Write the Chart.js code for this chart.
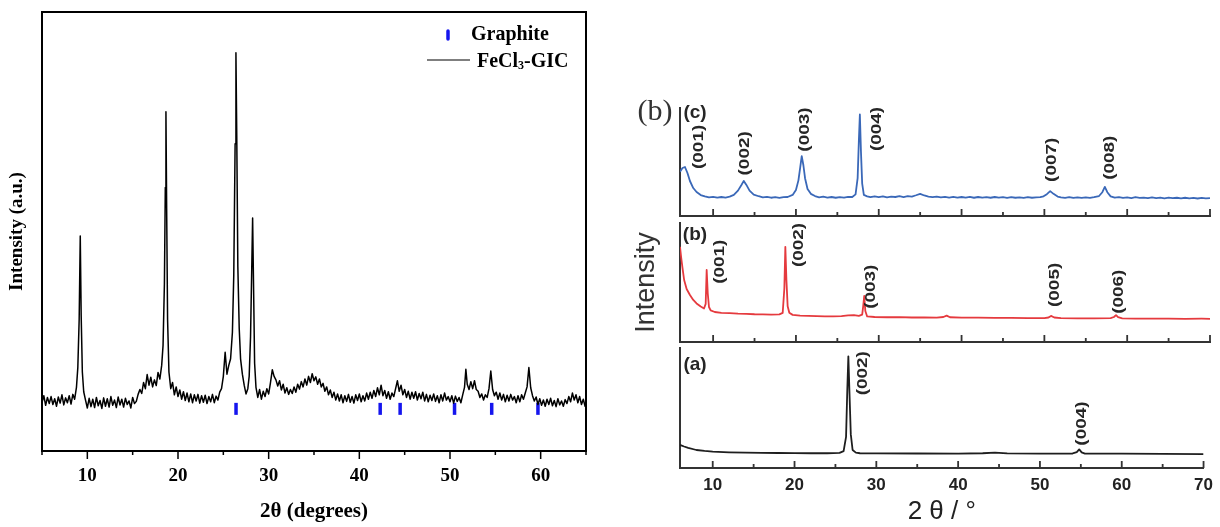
<!DOCTYPE html>
<html>
<head>
<meta charset="utf-8">
<title>XRD patterns</title>
<script src="https://cdn.jsdelivr.net/npm/chart.js@4.4.0/dist/chart.umd.min.js"></script>
<style>
  html, body { margin: 0; padding: 0; background: #fff; }
  #wrap { position: relative; width: 1220px; height: 527px; overflow: hidden; }
  canvas { position: absolute; top: 0; }
</style>
</head>
<body>
<div id="wrap">
  <canvas id="gic" width="600" height="527" style="left:0"></canvas>
  <canvas id="panelC" width="620" height="527" style="left:600px"></canvas>
  <canvas id="panelB" width="620" height="527" style="left:600px"></canvas>
  <canvas id="panelA" width="620" height="527" style="left:600px"></canvas>
</div>
<script>
// ---- left figure: FeCl3-GIC pattern, [2theta, intensity]
const gicPattern = [
  [5.0,11.0],[5.2,12.6],[5.4,10.4],[5.6,12.2],[5.8,10.8],[6.0,12.4],[6.2,10.6],[6.4,11.9],[6.6,10.2],[6.8,12.3],
  [7.0,10.9],[7.2,12.8],[7.4,10.5],[7.6,12.1],[7.8,11.0],[8.0,12.6],[8.2,10.7],[8.4,12.9],[8.6,11.8],[8.8,14.5],
  [8.95,19.0],[9.1,30.0],[9.22,49.0],[9.32,31.0],[9.45,18.0],[9.6,13.5],[9.8,11.6],[10.0,9.8],[10.2,12.0],[10.4,10.1],
  [10.6,11.8],[10.8,9.9],[11.0,12.2],[11.2,10.3],[11.4,11.5],[11.6,9.7],[11.8,12.1],[12.0,10.2],[12.2,11.9],[12.4,10.0],
  [12.6,12.4],[12.8,10.4],[13.0,11.6],[13.2,9.9],[13.4,12.3],[13.6,10.5],[13.8,11.8],[14.0,10.0],[14.2,12.0],[14.4,10.6],
  [14.6,11.4],[14.8,9.8],[15.0,12.2],[15.2,10.8],[15.4,11.3],[15.6,12.9],[15.8,14.0],[16.0,13.1],[16.2,15.6],[16.4,14.2],
  [16.6,17.4],[16.8,15.0],[17.0,16.8],[17.2,14.6],[17.4,16.2],[17.6,14.9],[17.8,17.9],[18.0,16.4],[18.2,19.5],[18.35,24.0],
  [18.5,38.0],[18.6,60.0],[18.67,77.3],[18.75,55.0],[18.85,30.0],[19.0,18.0],[19.2,14.2],[19.4,15.6],[19.6,12.8],[19.8,14.6],
  [20.0,12.4],[20.2,13.9],[20.4,11.8],[20.6,13.5],[20.8,11.5],[21.0,13.2],[21.2,11.2],[21.4,13.0],[21.6,11.0],[21.8,12.8],
  [22.0,11.4],[22.2,12.9],[22.4,10.9],[22.6,12.6],[22.8,11.1],[23.0,12.7],[23.2,10.8],[23.4,12.4],[23.6,11.2],[23.8,12.9],
  [24.0,11.0],[24.2,12.5],[24.4,11.6],[24.6,13.4],[24.8,14.2],[25.0,17.0],[25.2,22.5],[25.4,17.5],[25.6,19.5],[25.8,21.0],
  [26.0,27.0],[26.15,40.0],[26.3,70.0],[26.39,90.7],[26.48,72.0],[26.6,42.0],[26.75,28.0],[26.9,21.0],[27.1,17.5],[27.3,15.0],
  [27.5,13.0],[27.7,14.2],[27.85,17.0],[28.0,26.0],[28.12,40.0],[28.23,53.1],[28.33,38.0],[28.45,20.0],[28.6,14.5],[28.8,12.2],
  [29.0,14.0],[29.2,11.8],[29.4,13.6],[29.6,12.4],[29.8,14.2],[30.0,13.0],[30.2,15.6],[30.4,18.5],[30.6,17.0],[30.8,16.2],
  [31.0,14.8],[31.2,16.0],[31.4,13.9],[31.6,15.2],[31.8,13.2],[32.0,14.4],[32.2,12.9],[32.4,14.0],[32.6,13.1],[32.8,14.6],
  [33.0,13.4],[33.2,15.2],[33.4,14.1],[33.6,15.8],[33.8,14.6],[34.0,16.4],[34.2,15.0],[34.4,17.0],[34.6,15.6],[34.8,17.6],
  [35.0,16.0],[35.2,16.9],[35.4,15.2],[35.6,16.4],[35.8,14.6],[36.0,15.4],[36.2,13.6],[36.4,14.6],[36.6,12.8],[36.8,13.9],
  [37.0,12.2],[37.2,13.4],[37.4,11.6],[37.6,13.0],[37.8,11.4],[38.0,12.8],[38.2,11.0],[38.4,12.6],[38.6,11.3],[38.8,12.9],
  [39.0,11.1],[39.2,12.4],[39.4,10.9],[39.6,12.8],[39.8,11.5],[40.0,13.0],[40.2,11.2],[40.4,12.6],[40.6,11.4],[40.8,13.2],
  [41.0,11.8],[41.2,13.4],[41.4,12.0],[41.6,13.8],[41.8,12.4],[42.0,14.4],[42.2,12.8],[42.4,15.0],[42.6,12.6],[42.8,13.8],
  [43.0,12.0],[43.2,13.5],[43.4,11.8],[43.6,13.2],[43.8,12.4],[44.0,14.2],[44.2,16.0],[44.4,13.6],[44.6,15.0],[44.8,12.8],
  [45.0,14.0],[45.2,12.2],[45.4,13.6],[45.6,11.8],[45.8,13.4],[46.0,12.0],[46.2,13.5],[46.4,11.6],[46.6,13.1],[46.8,11.9],
  [47.0,13.4],[47.2,11.4],[47.4,12.9],[47.6,11.2],[47.8,12.7],[48.0,11.5],[48.2,13.0],[48.4,11.3],[48.6,12.6],[48.8,11.0],
  [49.0,12.8],[49.2,11.4],[49.4,13.2],[49.6,11.6],[49.8,12.4],[50.0,11.2],[50.2,12.6],[50.4,10.9],[50.6,12.5],[50.8,11.3],
  [51.0,12.2],[51.2,11.0],[51.4,12.8],[51.6,14.5],[51.75,18.6],[51.9,15.2],[52.1,14.0],[52.3,15.8],[52.5,14.2],[52.7,16.0],
  [52.9,14.0],[53.1,13.6],[53.3,12.2],[53.5,13.0],[53.7,11.6],[53.9,12.8],[54.1,12.2],[54.3,14.2],[54.5,18.2],[54.7,14.0],
  [54.9,12.6],[55.1,13.4],[55.3,11.8],[55.5,13.2],[55.7,11.6],[55.9,12.9],[56.1,11.2],[56.3,12.7],[56.5,11.4],[56.7,12.9],
  [56.9,11.6],[57.1,12.4],[57.3,11.0],[57.5,12.6],[57.7,11.2],[57.9,12.8],[58.1,11.8],[58.3,13.2],[58.5,14.6],[58.7,19.0],
  [58.9,14.4],[59.1,12.6],[59.3,11.4],[59.5,12.3],[59.7,10.6],[59.9,11.9],[60.1,10.4],[60.3,11.6],[60.5,10.2],[60.7,11.8],
  [60.9,10.6],[61.1,12.0],[61.3,10.3],[61.5,11.5],[61.7,10.1],[61.9,11.9],[62.1,10.5],[62.3,11.4],[62.5,10.2],[62.7,11.7],
  [62.9,10.8],[63.1,12.4],[63.3,11.2],[63.5,13.2],[63.7,11.6],[63.9,12.8],[64.1,11.0],[64.3,12.4],[64.5,10.6],[64.7,11.8],
  [64.9,10.2],[65.0,11.0]
];
const graphiteRefs = [26.4, 42.3, 44.5, 50.5, 54.6, 59.7];
const graphiteLevel = 9.6;
const gicTicks = [10, 20, 30, 40, 50, 60];
const gicMinorTicks = [5, 15, 25, 35, 45, 55, 65];

// ---- right figure: three stacked patterns
const patternC = [
  [6.0,41],[6.3,44.4],[6.6,45.4],[6.9,39.8],[7.2,32.4],[7.6,25.9],[8.0,22.2],[8.5,19.4],[9.0,18.1],[9.5,17.2],
  [10.0,17.8],[10.5,17.0],[11.0,17.6],[11.5,17.1],[12.0,17.9],[12.5,19.5],[13.0,23.5],[13.4,28.5],[13.7,32.5],[14.0,29.0],
  [14.4,23.5],[14.9,19.8],[15.5,18.3],[16.0,17.3],[16.5,17.8],[17.0,16.9],[17.5,17.4],[18.0,16.8],[18.5,17.5],[19.0,17.6],
  [19.6,19.5],[20.0,24.0],[20.3,33.0],[20.5,44.0],[20.7,55.5],[20.9,47.0],[21.1,35.0],[21.4,25.0],[21.8,20.5],[22.3,18.5],
  [22.8,17.3],[23.3,17.9],[23.8,17.0],[24.3,17.6],[24.8,16.9],[25.3,17.5],[25.8,17.1],[26.3,17.8],[26.8,17.6],[27.2,20.0],
  [27.45,35.0],[27.6,70.0],[27.72,94.0],[27.85,60.0],[28.0,30.0],[28.2,19.5],[28.6,18.2],[29.0,17.4],[29.5,18.1],[30.0,17.5],
  [30.5,18.2],[31.0,17.3],[31.5,18.0],[32.0,17.6],[32.5,18.3],[33.0,17.5],[33.5,18.4],[34.0,18.0],[34.5,19.2],[35.0,20.5],
  [35.5,19.0],[36.0,18.0],[36.5,17.4],[37.0,18.0],[37.5,17.2],[38.0,17.8],[38.5,17.1],[39.0,17.7],[39.5,17.0],[40.0,17.6],
  [40.5,17.1],[41.0,17.7],[41.5,16.9],[42.0,17.6],[42.5,17.0],[43.0,17.5],[43.5,16.9],[44.0,17.6],[44.5,17.0],[45.0,17.4],
  [45.5,16.8],[46.0,17.5],[46.5,16.9],[47.0,17.3],[47.5,16.8],[48.0,17.4],[48.5,16.9],[49.0,17.2],[49.5,17.4],[49.9,18.2],
  [50.3,20.2],[50.7,23.0],[51.1,20.5],[51.6,18.0],[52.0,17.3],[52.5,16.8],[53.0,17.4],[53.5,16.7],[54.0,17.3],[54.5,16.8],
  [55.0,17.2],[55.5,16.7],[56.0,17.4],[56.6,18.5],[57.0,22.0],[57.3,27.0],[57.6,22.0],[58.0,18.2],[58.5,17.0],[59.0,17.4],
  [59.5,16.8],[60.0,17.2],[60.5,16.6],[61.0,17.4],[61.5,16.8],[62.0,17.1],[62.5,16.5],[63.0,17.2],[63.5,16.6],[64.0,17.0],
  [64.5,16.4],[65.0,17.0],[65.5,16.5],[66.0,16.9],[66.5,16.3],[67.0,16.9],[67.5,16.4],[68.0,16.8],[68.5,16.2],[69.0,16.7],
  [69.5,16.3],[70.0,16.5]
];
const patternB = [
  [6.0,80],[6.15,70.6],[6.3,62.2],[6.5,52.1],[6.8,44.5],[7.2,39.5],[7.6,35.3],[8.0,32.4],[8.5,29.8],[8.9,28.2],
  [9.1,32],[9.22,60.5],[9.35,41],[9.5,29.4],[9.7,26.5],[10.2,25.2],[11.0,24.5],[12.0,24.2],[13.0,23.8],[14.0,23.6],
  [15.0,23.3],[16.0,23.2],[17.0,23.0],[18.0,23.2],[18.4,24.5],[18.6,45],[18.72,80],[18.85,52],[19.0,30],[19.2,24.5],
  [19.6,22.8],[20.5,22.2],[21.5,22.0],[22.5,21.8],[23.5,21.6],[24.5,21.5],[25.5,21.8],[26.3,22.4],[27.0,22.6],[27.6,22.0],
  [28.0,23.0],[28.12,30.0],[28.25,38.7],[28.38,26.0],[28.6,21.5],[29.5,21.0],[31.0,20.8],[32.5,20.9],[34.0,20.6],[35.5,20.7],
  [37.0,20.5],[37.8,21.0],[38.2,22.2],[38.6,20.8],[40.0,20.4],[42.0,20.5],[44.0,20.2],[46.0,20.3],[48.0,20.0],[50.0,20.1],
  [50.5,20.6],[50.8,21.9],[51.2,20.6],[52.0,20.0],[54.0,19.9],[56.0,19.8],[58.0,20.0],[58.4,21.0],[58.65,22.6],[58.9,20.9],
  [59.4,19.8],[61.0,19.7],[63.0,19.6],[65.0,19.7],[67.0,19.5],[69.0,19.6],[70.0,19.5]
];
const patternA = [
  [6.0,19.2],[6.5,17.9],[7.0,16.7],[8.0,15.0],[9.0,14.2],[10.0,13.6],[12.0,13.1],[14.0,12.8],[16.0,12.6],[18.0,12.5],
  [20.0,12.4],[22.0,12.3],[24.0,12.3],[25.5,12.6],[26.0,14.0],[26.3,26.0],[26.45,65.0],[26.58,93.0],[26.72,62.0],[26.88,28.0],
  [27.1,15.0],[27.5,12.8],[28.0,12.3],[30.0,12.2],[35.0,12.1],[40.0,12.0],[43.0,12.3],[44.5,12.8],[46.0,12.2],[50.0,12.0],
  [54.0,12.1],[54.5,13.2],[54.8,15.5],[55.1,13.0],[55.5,12.0],[60.0,11.9],[65.0,11.8],[70.0,11.6]
];
const hklC = ['(001)', '(002)', '(003)', '(004)', '(007)', '(008)'];
const hklCAngle = [8.35, 13.9, 21.1, 29.8, 50.9, 57.9];
const hklCLevel = [64, 58, 80, 80.5, 52, 54];
const hklB = ['(001)', '(002)', '(003)', '(005)', '(006)'];
const hklBAngle = [10.8, 20.4, 29.1, 51.3, 59.0];
const hklBLevel = [67.5, 81.5, 46.5, 48, 42.3];
const hklA = ['(002)', '(004)'];
const hklAAngle = [28.4, 55.1];
const hklALevel = [79, 37];
const stackTicks = [10, 20, 30, 40, 50, 60, 70];
const stackMinorTicks = [15, 25, 35, 45, 55, 65];

const serif = '"Liberation Serif", "Times New Roman", serif';
const sans = '"Liberation Sans", Arial, sans-serif';

// frame around the left plot
const frameBox = {
  id: 'frameBox',
  afterDraw(chart, args, opts) {
    if (!opts.show) return;
    const { ctx, chartArea: a } = chart;
    ctx.save();
    ctx.strokeStyle = opts.color;
    ctx.lineWidth = opts.width;
    ctx.strokeRect(a.left, a.top, a.right - a.left, a.bottom - a.top);
    ctx.restore();
  }
};

// major/minor tick marks on the x axis
const tickMarks = {
  id: 'tickMarks',
  afterDraw(chart, args, opts) {
    if (!opts.major) return;
    const { ctx, chartArea: a, scales: { x } } = chart;
    const dir = opts.inward ? -1 : 1;
    ctx.save();
    ctx.strokeStyle = opts.color;
    ctx.lineWidth = opts.width;
    ctx.beginPath();
    opts.major.forEach(v => {
      const px = x.getPixelForValue(v);
      ctx.moveTo(px, a.bottom);
      ctx.lineTo(px, a.bottom + dir * opts.majorLength);
    });
    opts.minor.forEach(v => {
      const px = x.getPixelForValue(v);
      ctx.moveTo(px, a.bottom);
      ctx.lineTo(px, a.bottom + dir * opts.minorLength);
    });
    ctx.stroke();
    ctx.restore();
  }
};

// rotated (hkl) labels
const hklLabels = {
  id: 'hklLabels',
  afterDatasetsDraw(chart, args, opts) {
    if (!opts.text) return;
    const { ctx, scales: { x, y } } = chart;
    ctx.save();
    ctx.fillStyle = '#262626';
    ctx.font = 'bold 14px ' + sans;
    ctx.textAlign = 'center';
    ctx.textBaseline = 'middle';
    opts.text.forEach((t, i) => {
      ctx.save();
      ctx.translate(x.getPixelForValue(opts.angle[i]), y.getPixelForValue(opts.level[i]));
      ctx.rotate(-Math.PI / 2);
      ctx.scale(1.35, 1);
      ctx.fillText(t, 0, 0);
      ctx.restore();
    });
    ctx.restore();
  }
};

// (a) (b) (c) tags and the figure letter
const panelTag = {
  id: 'panelTag',
  afterDraw(chart, args, opts) {
    if (!opts.text) return;
    const { ctx, chartArea: a } = chart;
    ctx.save();
    ctx.fillStyle = '#262626';
    ctx.textBaseline = 'middle';
    ctx.textAlign = 'center';
    ctx.font = 'bold 19px ' + sans;
    ctx.fillText(opts.text, a.left + 15, a.top + opts.dy);
    if (opts.figure) {
      ctx.font = '30px ' + serif;
      ctx.fillStyle = '#333';
      ctx.fillText(opts.figure, a.left - 25, a.top + 4);
    }
    ctx.restore();
  }
};

// legend of the left plot
const gicLegend = {
  id: 'gicLegend',
  afterDraw(chart, args, opts) {
    if (!opts.show) return;
    const { ctx, chartArea: a } = chart;
    ctx.save();
    ctx.strokeStyle = '#1515ee';
    ctx.lineWidth = 3.5;
    ctx.lineCap = 'round';
    ctx.beginPath();
    ctx.moveTo(a.right - 138, a.top + 19);
    ctx.lineTo(a.right - 138, a.top + 27);
    ctx.stroke();
    ctx.strokeStyle = '#000';
    ctx.lineWidth = 1.2;
    ctx.lineCap = 'butt';
    ctx.beginPath();
    ctx.moveTo(a.right - 159, a.top + 48);
    ctx.lineTo(a.right - 116, a.top + 48);
    ctx.stroke();
    ctx.fillStyle = '#000';
    ctx.textAlign = 'left';
    ctx.textBaseline = 'middle';
    ctx.font = 'bold 20px ' + serif;
    ctx.fillText('Graphite', a.right - 115, a.top + 23);
    let tx = a.right - 109;
    ctx.fillText('FeCl', tx, a.top + 50);
    tx += ctx.measureText('FeCl').width;
    ctx.font = 'bold 12px ' + serif;
    ctx.fillText('3', tx, a.top + 54);
    tx += ctx.measureText('3').width;
    ctx.font = 'bold 20px ' + serif;
    ctx.fillText('-GIC', tx, a.top + 50);
    ctx.restore();
  }
};

const allPlugins = [frameBox, tickMarks, hklLabels, panelTag, gicLegend];

new Chart(document.getElementById('gic'), {
  type: 'scatter',
  data: {
    datasets: [
      {
        label: 'FeCl3-GIC',
        data: gicPattern.map(p => ({ x: p[0], y: p[1] })),
        showLine: true,
        borderColor: '#000',
        borderWidth: 1.5,
        pointRadius: 0,
        borderJoinStyle: 'round'
      },
      {
        label: 'Graphite',
        data: graphiteRefs.map(a => ({ x: a, y: graphiteLevel })),
        showLine: false,
        pointStyle: 'line',
        rotation: 90,
        pointRadius: 6,
        borderColor: '#1515ee',
        borderWidth: 3.5
      }
    ]
  },
  options: {
    responsive: false,
    animation: false,
    devicePixelRatio: 1,
    events: [],
    layout: { padding: { top: 12, right: 14, left: 0, bottom: 0 } },
    scales: {
      x: {
        type: 'linear',
        min: 5,
        max: 65,
        afterBuildTicks: s => { s.ticks = gicTicks.map(v => ({ value: v })); },
        afterFit: s => { s.height = 76; },
        grid: { display: false, drawTicks: false },
        border: { display: false },
        ticks: { padding: 14, color: '#000', font: { family: serif, weight: 'bold', size: 19 } },
        title: { display: true, text: '2θ (degrees)', color: '#000', padding: { top: 0, bottom: 3 },
                 font: { family: serif, weight: 'bold', size: 21 } }
      },
      y: {
        min: 0,
        max: 100,
        afterFit: s => { s.width = 42; },
        grid: { display: false, drawTicks: false },
        border: { display: false },
        ticks: { display: false },
        title: { display: true, text: 'Intensity (a.u.)', color: '#000', padding: { top: 6, bottom: 0 },
                 font: { family: serif, weight: 'bold', size: 19 } }
      }
    },
    plugins: {
      legend: { display: false },
      tooltip: { enabled: false },
      frameBox: { show: true, color: '#000', width: 2 },
      tickMarks: { major: gicTicks, minor: gicMinorTicks, inward: false, majorLength: 8, minorLength: 4, color: '#000', width: 1.5 },
      gicLegend: { show: true }
    }
  },
  plugins: allPlugins
});

function stackPanel(id, pattern, color, top, bottom, hkl, tag, extras) {
  const showAxis = extras.bottomAxis;
  return new Chart(document.getElementById(id), {
    type: 'scatter',
    data: {
      datasets: [{
        data: pattern.map(p => ({ x: p[0], y: p[1] })),
        showLine: true,
        borderColor: color,
        borderWidth: 1.8,
        pointRadius: 0,
        borderJoinStyle: 'round'
      }]
    },
    options: {
      responsive: false,
      animation: false,
      devicePixelRatio: 1,
      events: [],
      layout: { padding: { top: top, right: 10, left: 0, bottom: 0 } },
      scales: {
        x: {
          type: 'linear',
          min: 6,
          max: 70,
          afterBuildTicks: s => { s.ticks = stackTicks.map(v => ({ value: v })); },
          afterFit: s => { s.height = 527 - bottom; },
          grid: { display: false, drawTicks: false },
          border: { display: true, color: '#333', width: 2 },
          ticks: { display: showAxis, padding: 7, color: '#222', font: { family: sans, weight: 'bold', size: 17 } },
          title: { display: showAxis, text: '2 θ / °', color: '#222', padding: { top: 0, bottom: 0 },
                   font: { family: sans, size: 26 } }
        },
        y: {
          min: 0,
          max: 100,
          afterFit: s => { s.width = 80; },
          grid: { display: false, drawTicks: false },
          border: { display: true, color: '#333', width: 2 },
          ticks: { display: false },
          title: { display: !!extras.yTitle, text: extras.yTitle || '', color: '#333', padding: { top: 30, bottom: 0 },
                   font: { family: sans, size: 27 } }
        }
      },
      plugins: {
        legend: { display: false },
        tooltip: { enabled: false },
        tickMarks: { major: stackTicks, minor: stackMinorTicks, inward: true, majorLength: 7, minorLength: 4, color: '#333', width: 1.8 },
        hklLabels: hkl,
        panelTag: tag
      }
    },
    plugins: allPlugins
  });
}

stackPanel('panelC', patternC, '#3a68b8', 108, 216,
  { text: hklC, angle: hklCAngle, level: hklCLevel },
  { text: '(c)', dy: 5, figure: '(b)' },
  { bottomAxis: false });
stackPanel('panelB', patternB, '#e53a3e', 223, 342,
  { text: hklB, angle: hklBAngle, level: hklBLevel },
  { text: '(b)', dy: 12 },
  { bottomAxis: false, yTitle: 'Intensity' });
stackPanel('panelA', patternA, '#1e1e1e', 348, 468,
  { text: hklA, angle: hklAAngle, level: hklALevel },
  { text: '(a)', dy: 17 },
  { bottomAxis: true });
</script>
</body>
</html>
